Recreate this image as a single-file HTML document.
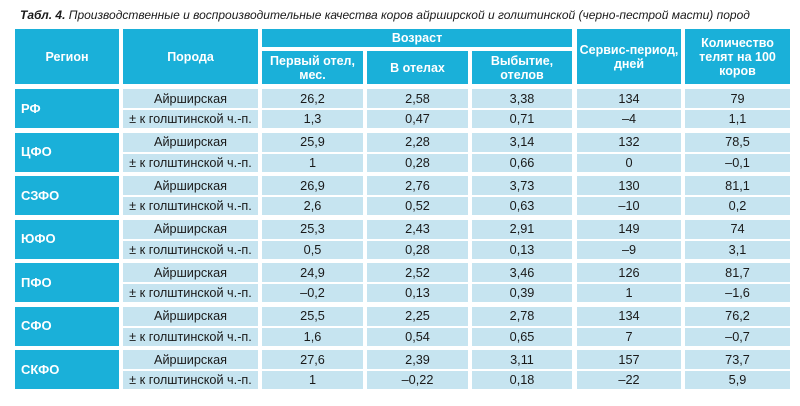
<!DOCTYPE html>
<html><head><meta charset="utf-8">
<style>
body{margin:0;width:800px;height:406px;background:#fff;position:relative;overflow:hidden;font-family:"Liberation Sans","DejaVu Sans",sans-serif;}
.c{position:absolute;display:flex;align-items:center;justify-content:center;text-align:center;box-sizing:border-box;font-size:12.7px;line-height:14px;}
.h{background:#1ab0d9;color:#fff;font-weight:bold;font-size:12.5px;}
.r{background:#1ab0d9;color:#fff;font-weight:bold;justify-content:flex-start;padding-left:6px;font-size:13px;}
.d{background:#c6e4f0;color:#1a1a1a;}
#title{position:absolute;left:20px;top:8px;font-size:12px;font-style:italic;color:#1a1a1a;white-space:nowrap;}
</style></head><body>
<div id="title"><b>Табл. 4.</b> Производственные и воспроизводительные качества коров айрширской и голштинской (черно-пестрой масти) пород</div>
<div id="t"></div>
<script>
const regions=["РФ","ЦФО","СЗФО","ЮФО","ПФО","СФО","СКФО"];
const breeds=["Айрширская","± к голштинской ч.-п."];
const firstCalving=[["26,2","1,3"],["25,9","1"],["26,9","2,6"],["25,3","0,5"],["24,9","–0,2"],["25,5","1,6"],["27,6","1"]];
const lactations=[["2,58","0,47"],["2,28","0,28"],["2,76","0,52"],["2,43","0,28"],["2,52","0,13"],["2,25","0,54"],["2,39","–0,22"]];
const culling=[["3,38","0,71"],["3,14","0,66"],["3,73","0,63"],["2,91","0,13"],["3,46","0,39"],["2,78","0,65"],["3,11","0,18"]];
const service=[["134","–4"],["132","0"],["130","–10"],["149","–9"],["126","1"],["134","7"],["157","–22"]];
const calves=[["79","1,1"],["78,5","–0,1"],["81,1","0,2"],["74","3,1"],["81,7","–1,6"],["76,2","–0,7"],["73,7","5,9"]];
const cols=[[15,119],[123,258],[262,363],[367,468],[472,572],[577,681],[685,790]];
const T=document.getElementById('t');
function cell(cls,x1,y1,x2,y2,html,name){
 const d=document.createElement('div');
 d.className='c '+cls;
 d.style.left=x1+'px';d.style.top=y1+'px';d.style.width=(x2-x1)+'px';d.style.height=(y2-y1)+'px';
 d.innerHTML=html;
 
 
 T.appendChild(d);
}
cell('h',cols[0][0],29,cols[0][1],84,'Регион','header-region');
cell('h',cols[1][0],29,cols[1][1],84,'Порода','header-breed');
cell('h',cols[2][0],29,cols[4][1],47,'Возраст','header-age');
cell('h',cols[2][0],51,cols[2][1],84,'Первый отел,<br>мес.','header-first-calving');
cell('h',cols[3][0],51,cols[3][1],84,'В отелах','header-lactations');
cell('h',cols[4][0],51,cols[4][1],84,'Выбытие,<br>отелов','header-culling');
cell('h',cols[5][0],29,cols[5][1],84,'Сервис-период,<br>дней','header-service-period');
cell('h',cols[6][0],29,cols[6][1],84,'Количество<br>телят на 100<br>коров','header-calves');
const series=[firstCalving,lactations,culling,service,calves];
const snames=['first-calving','lactations','culling','service-period','calves'];
regions.forEach((r,i)=>{
 const y=89+i*43.5;
 cell('r',cols[0][0],y,cols[0][1],y+39,r,'region-'+i);
 for(let k=0;k<2;k++){
  const y1=k?y+21:y, y2=k?y+39:y+19;
  cell('d',cols[1][0],y1,cols[1][1],y2,breeds[k],'breed-cell');
  series.forEach((s,j)=>cell('d',cols[j+2][0],y1,cols[j+2][1],y2,s[i][k],snames[j]+'-cell'));
 }
});
</script>
</body></html>
